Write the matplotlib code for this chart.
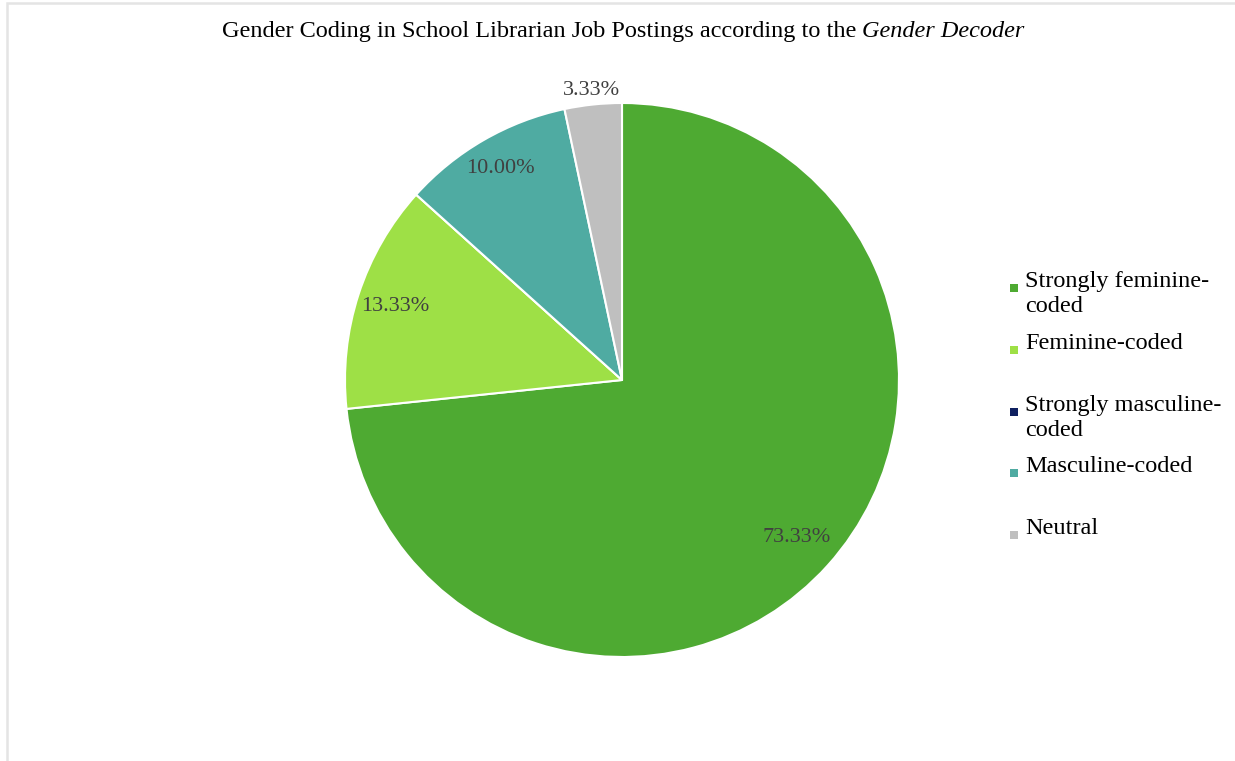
import matplotlib.pyplot as plt
import numpy as np
from matplotlib.patches import Rectangle

plt.rcParams['font.family'] = ['Liberation Serif', 'DejaVu Serif']

categories = ['Strongly feminine-coded', 'Feminine-coded', 'Strongly masculine-coded',
              'Masculine-coded', 'Neutral']
legend_labels = ['Strongly feminine-\ncoded', 'Feminine-coded', 'Strongly masculine-\ncoded',
                 'Masculine-coded', 'Neutral']
shares = [73.33, 13.33, 0.0, 10.00, 3.33]
colors = ['#4EAA32', '#9EE046', '#0F2060', '#4FABA2', '#BFBFBF']
label_dist = [0.85, 0.86, 0.85, 0.88, 1.05]

W, H = 1235, 761
fig = plt.figure(figsize=(W / 100, H / 100), dpi=100)


def fx(px):
    return px / W


def fy(py):
    # pixel rows counted from the top
    return 1 - py / H


# light frame like the original screenshot
fig.add_artist(Rectangle((fx(6.5), -0.1), 1.2, fy(3.5) + 0.1, transform=fig.transFigure,
                         facecolor='none', edgecolor='#E4E4E4', linewidth=1.8))

# title: plain part + italic part
t1 = fig.text(fx(222), fy(37), 'Gender Coding in School Librarian Job Postings according to the',
              ha='left', va='baseline', fontsize=17.5)
r = fig.canvas.get_renderer()
x_end = t1.get_window_extent(r).x1
fig.text(fx(x_end + 6), fy(37), 'Gender Decoder', ha='left', va='baseline', fontsize=17.5,
         style='italic')

ax = fig.add_axes([fx(345), 104 / H, 554 / W, 554 / H])
wedges, _ = ax.pie(shares, colors=colors, startangle=90, counterclock=False,
                   wedgeprops=dict(edgecolor='white', linewidth=1.5))
ax.set_xlim(-1, 1)
ax.set_ylim(-1, 1)

for w, v, d in zip(wedges, shares, label_dist):
    if v == 0:
        continue
    ang = np.deg2rad((w.theta1 + w.theta2) / 2)
    ax.text(d * np.cos(ang), d * np.sin(ang), '{:.2f}%'.format(v), ha='center', va='center',
            fontsize=16, color='#404040')

# legend, one entry every ~62 px, marker next to the first line
for i, (lab, c) in enumerate(zip(legend_labels, colors)):
    base = 287 + i * 61.8
    fig.add_artist(Rectangle((fx(1010), fy(base + 5)), 8 / W, 8 / H, transform=fig.transFigure,
                             facecolor=c, edgecolor='none'))
    for j, line in enumerate(lab.split('\n')):
        fig.text(fx(1025), fy(base + j * 25.5), line, ha='left', va='baseline', fontsize=17.5)

plt.savefig('out.png', dpi=100)
